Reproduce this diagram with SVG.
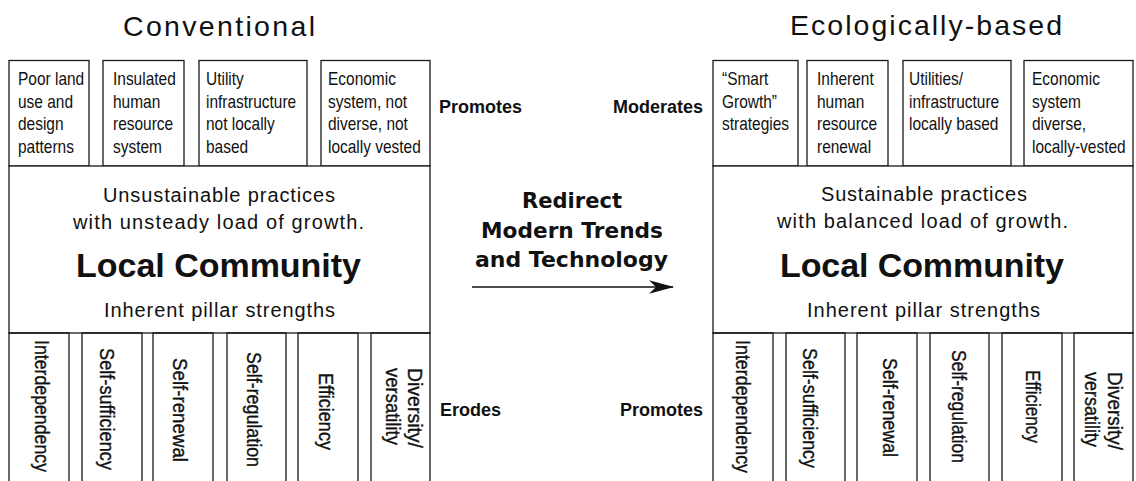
<svg xmlns="http://www.w3.org/2000/svg" width="1136" height="481" viewBox="0 0 1136 481">
  <style>
    .box { fill: #ffffff; stroke: #1a1a1a; stroke-width: 1.3; }
    .post { fill: none; stroke: #1a1a1a; stroke-width: 1.3; }
    .title { font-family: "Liberation Sans", Arial, sans-serif; font-size: 28.5px; fill: #111; text-anchor: middle; }
    .note { font-family: "Liberation Sans", Arial, sans-serif; font-size: 18px; fill: #111; }
    .body { font-family: "Liberation Sans", Arial, sans-serif; font-size: 20px; fill: #111; text-anchor: middle; }
    .big { font-family: "Liberation Sans", Arial, sans-serif; font-size: 34px; font-weight: bold; fill: #111; text-anchor: middle; }
    .verb { font-family: "Liberation Sans", Arial, sans-serif; font-size: 18px; font-weight: bold; fill: #111; }
    .center { font-family: "DejaVu Sans", Verdana, sans-serif; font-size: 21.5px; font-weight: bold; fill: #111; text-anchor: middle; }
    .pillar { font-family: "Liberation Sans", Arial, sans-serif; font-size: 21px; fill: #111; stroke: #111; stroke-width: 0.35; text-anchor: middle; }
    .link { stroke: #111; stroke-width: 1.6; fill: none; }
  </style>
  <defs>
    <marker id="arrowhead" markerUnits="userSpaceOnUse" markerWidth="25" markerHeight="16" viewBox="0 0 25 16" refX="24" refY="8" orient="auto">
      <path d="M0,1.2 L25,8 L0,14.8 L7,8 Z" fill="#111"/>
    </marker>
  </defs>

  <rect width="1136" height="481" fill="#ffffff"/>

  <!-- column headings -->
  <text class="title" x="219" y="36" textLength="192" lengthAdjust="spacing">Conventional</text>
  <text class="title" x="926" y="35" textLength="272" lengthAdjust="spacing">Ecologically-based</text>

  <!-- ===== conventional side ===== -->
  <g id="conv-land-use">
    <rect class="box" x="9" y="60.5" width="80" height="105.5"/>
    <g transform="translate(18 0) scale(0.86 1)">
      <text class="note"><tspan x="0" y="85.5">Poor land</tspan><tspan x="0" y="108">use and</tspan><tspan x="0" y="130.5">design</tspan><tspan x="0" y="153">patterns</tspan></text>
    </g>
  </g>
  <g id="conv-human-resource">
    <rect class="box" x="103" y="60.5" width="81" height="105.5"/>
    <g transform="translate(113 0) scale(0.86 1)">
      <text class="note"><tspan x="0" y="85.5">Insulated</tspan><tspan x="0" y="108">human</tspan><tspan x="0" y="130.5">resource</tspan><tspan x="0" y="153">system</tspan></text>
    </g>
  </g>
  <g id="conv-utility">
    <rect class="box" x="199" y="60.5" width="108" height="105.5"/>
    <g transform="translate(206 0) scale(0.86 1)">
      <text class="note"><tspan x="0" y="85.5">Utility</tspan><tspan x="0" y="108">infrastructure</tspan><tspan x="0" y="130.5">not locally</tspan><tspan x="0" y="153">based</tspan></text>
    </g>
  </g>
  <g id="conv-economic">
    <rect class="box" x="321" y="60.5" width="109" height="105.5"/>
    <g transform="translate(328 0) scale(0.86 1)">
      <text class="note"><tspan x="0" y="85.5">Economic</tspan><tspan x="0" y="108">system, not</tspan><tspan x="0" y="130.5">diverse, not</tspan><tspan x="0" y="153">locally vested</tspan></text>
    </g>
  </g>

  <g id="conv-community">
    <rect class="box" x="9" y="166" width="421" height="167"/>
    <text class="body" x="219" y="202" textLength="232" lengthAdjust="spacing">Unsustainable practices</text>
    <text class="body" x="218.5" y="229" textLength="291" lengthAdjust="spacing">with unsteady load of growth.</text>
    <text class="big" x="218.5" y="277" textLength="285" lengthAdjust="spacing">Local Community</text>
    <text class="body" x="219.5" y="317" textLength="231" lengthAdjust="spacing">Inherent pillar strengths</text>
  </g>

  <!-- pillars run off the bottom edge, so they are drawn open-ended -->
  <g id="conv-pillars">
    <path class="post" d="M9,481 V333 H69 V481"/>
    <path class="post" d="M82,481 V333 H142 V481"/>
    <path class="post" d="M153,481 V333 H213 V481"/>
    <path class="post" d="M227,481 V333 H286 V481"/>
    <path class="post" d="M298,481 V333 H358 V481"/>
    <path class="post" d="M371,481 V333 H430 V481"/>
    <text class="pillar" transform="translate(42 406) rotate(90)" y="7.5" textLength="132" lengthAdjust="spacingAndGlyphs">Interdependency</text>
    <text class="pillar" transform="translate(107 409) rotate(90)" y="7.5" textLength="122" lengthAdjust="spacingAndGlyphs">Self-sufficiency</text>
    <text class="pillar" transform="translate(180 410) rotate(90)" y="7.5" textLength="104" lengthAdjust="spacingAndGlyphs">Self-renewal</text>
    <text class="pillar" transform="translate(254 409.5) rotate(90)" y="7.5" textLength="115" lengthAdjust="spacingAndGlyphs">Self-regulation</text>
    <text class="pillar" transform="translate(326 411.5) rotate(90)" y="7.5" textLength="77" lengthAdjust="spacingAndGlyphs">Efficiency</text>
    <text class="pillar" transform="translate(415 408) rotate(90)" y="7.5" textLength="80" lengthAdjust="spacingAndGlyphs">Diversity/</text>
    <text class="pillar" transform="translate(393 406.5) rotate(90)" y="7.5" textLength="77" lengthAdjust="spacingAndGlyphs">versatility</text>
  </g>

  <!-- ===== ecologically-based side ===== -->
  <g id="eco-smart-growth">
    <rect class="box" x="713" y="60.5" width="85" height="105.5"/>
    <g transform="translate(722 0) scale(0.86 1)">
      <text class="note"><tspan x="0" y="85.5">“Smart</tspan><tspan x="0" y="108">Growth”</tspan><tspan x="0" y="130.5">strategies</tspan></text>
    </g>
  </g>
  <g id="eco-human-resource">
    <rect class="box" x="807" y="60.5" width="81" height="105.5"/>
    <g transform="translate(817 0) scale(0.86 1)">
      <text class="note"><tspan x="0" y="85.5">Inherent</tspan><tspan x="0" y="108">human</tspan><tspan x="0" y="130.5">resource</tspan><tspan x="0" y="153">renewal</tspan></text>
    </g>
  </g>
  <g id="eco-utilities">
    <rect class="box" x="903" y="60.5" width="108" height="105.5"/>
    <g transform="translate(909 0) scale(0.86 1)">
      <text class="note"><tspan x="0" y="85.5">Utilities/</tspan><tspan x="0" y="108">infrastructure</tspan><tspan x="0" y="130.5">locally based</tspan></text>
    </g>
  </g>
  <g id="eco-economic">
    <rect class="box" x="1024" y="60.5" width="109" height="105.5"/>
    <g transform="translate(1032 0) scale(0.86 1)">
      <text class="note"><tspan x="0" y="85.5">Economic</tspan><tspan x="0" y="108">system</tspan><tspan x="0" y="130.5">diverse,</tspan><tspan x="0" y="153">locally-vested</tspan></text>
    </g>
  </g>

  <g id="eco-community">
    <rect class="box" x="713" y="166" width="420" height="167"/>
    <text class="body" x="924" y="201" textLength="206" lengthAdjust="spacing">Sustainable practices</text>
    <text class="body" x="922.5" y="228" textLength="291" lengthAdjust="spacing">with balanced load of growth.</text>
    <text class="big" x="922" y="277" textLength="284" lengthAdjust="spacing">Local Community</text>
    <text class="body" x="923.5" y="317" textLength="233" lengthAdjust="spacing">Inherent pillar strengths</text>
  </g>

  <g id="eco-pillars">
    <path class="post" d="M713,481 V333 H773 V481"/>
    <path class="post" d="M786,481 V333 H845 V481"/>
    <path class="post" d="M857,481 V333 H917 V481"/>
    <path class="post" d="M930,481 V333 H989 V481"/>
    <path class="post" d="M1002,481 V333 H1062 V481"/>
    <path class="post" d="M1074,481 V333 H1133 V481"/>
    <text class="pillar" transform="translate(743 406.5) rotate(90)" y="7.5" textLength="133" lengthAdjust="spacingAndGlyphs">Interdependency</text>
    <text class="pillar" transform="translate(810 408) rotate(90)" y="7.5" textLength="120" lengthAdjust="spacingAndGlyphs">Self-sufficiency</text>
    <text class="pillar" transform="translate(890 407.5) rotate(90)" y="7.5" textLength="99" lengthAdjust="spacingAndGlyphs">Self-renewal</text>
    <text class="pillar" transform="translate(959 406.5) rotate(90)" y="7.5" textLength="113" lengthAdjust="spacingAndGlyphs">Self-regulation</text>
    <text class="pillar" transform="translate(1033 406.5) rotate(90)" y="7.5" textLength="73" lengthAdjust="spacingAndGlyphs">Efficiency</text>
    <text class="pillar" transform="translate(1115.5 411) rotate(90)" y="7.5" textLength="78" lengthAdjust="spacingAndGlyphs">Diversity/</text>
    <text class="pillar" transform="translate(1092 409.5) rotate(90)" y="7.5" textLength="75" lengthAdjust="spacingAndGlyphs">versatility</text>
  </g>

  <!-- relationship labels between the two columns -->
  <g id="labels">
    <text class="verb" x="439" y="113">Promotes</text>
    <text class="verb" x="703" y="113" text-anchor="end">Moderates</text>
    <text class="verb" x="440" y="416">Erodes</text>
    <text class="verb" x="703" y="416" text-anchor="end">Promotes</text>
  </g>

  <g id="transition">
    <text class="center" x="572" y="208" textLength="100" lengthAdjust="spacingAndGlyphs">Redirect</text>
    <text class="center" x="572" y="238" textLength="182" lengthAdjust="spacingAndGlyphs">Modern Trends</text>
    <text class="center" x="571.5" y="267" textLength="193" lengthAdjust="spacingAndGlyphs">and Technology</text>
  </g>

  <g id="connectors">
    <line class="link" x1="472" y1="287" x2="673" y2="287" marker-end="url(#arrowhead)"/>
  </g>
</svg>
